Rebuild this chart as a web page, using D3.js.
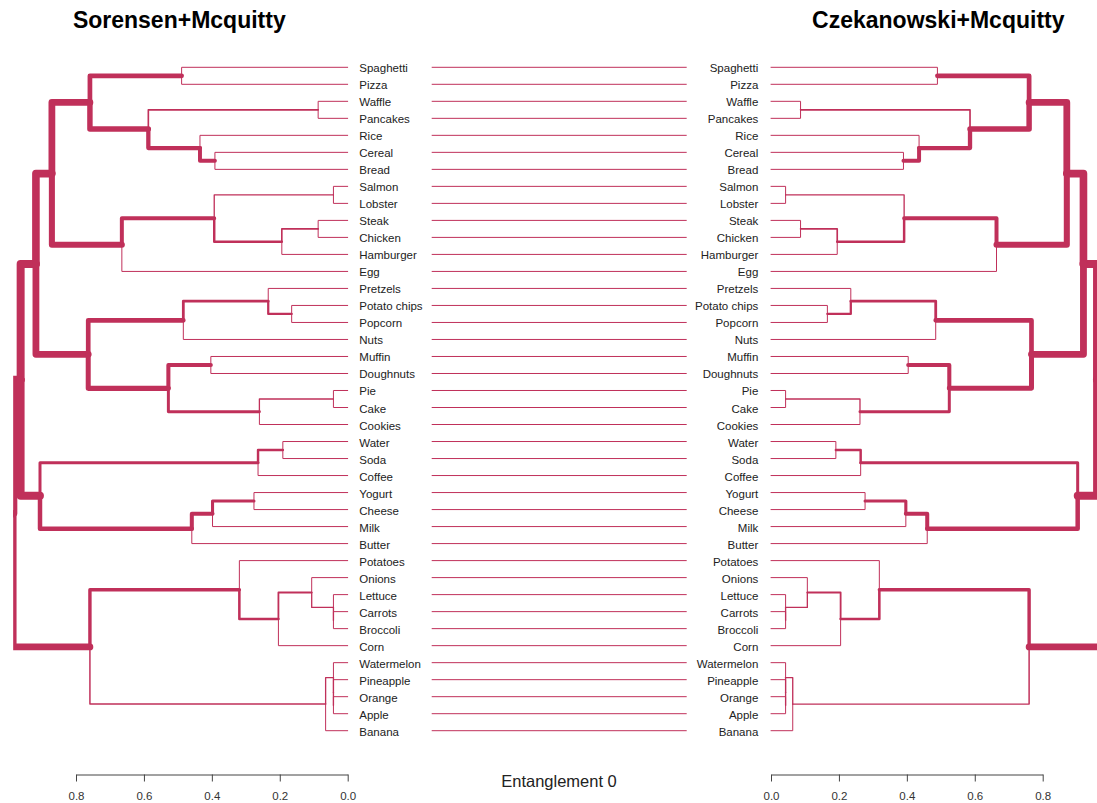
<!DOCTYPE html>
<html><head><meta charset="utf-8">
<script src="https://cdn.jsdelivr.net/npm/d3@7"></script>
<style>body{margin:0;background:#fff} svg{display:block}</style>
</head><body>
<script>
// ---- data ----
const leaves = ["Spaghetti","Pizza","Waffle","Pancakes","Rice","Cereal","Bread",
  "Salmon","Lobster","Steak","Chicken","Hamburger","Egg",
  "Pretzels","Potato chips","Popcorn","Nuts","Muffin","Doughnuts","Pie","Cake","Cookies",
  "Water","Soda","Coffee","Yogurt","Cheese","Milk","Butter",
  "Potatoes","Onions","Lettuce","Carrots","Broccoli","Corn",
  "Watermelon","Pineapple","Orange","Apple","Banana"];
// hclust-style merges: negative = leaf (1-based), positive = earlier merge (1-based)
const merges = [
  [-1,-2],[-3,-4],[-6,-7],[-5,3],[2,4],[1,5],
  [-8,-9],[-10,-11],[8,-12],[7,9],[10,-13],[6,11],
  [-15,-16],[-14,13],[14,-17],[-18,-19],[-20,-21],[17,-22],[16,18],[15,19],
  [12,20],
  [-23,-24],[22,-25],[-26,-27],[24,-28],[25,-29],[23,26],
  [21,27],
  [-33,-34],[-32,29],[-31,30],[31,-35],[-30,32],
  [-38,-39],[-37,34],[-36,35],[36,-40],[33,37],
  [28,38]
];
const heightsLeft = [
  0.489,0.087,0.391,0.435,0.587,0.759,
  0.042,0.087,0.194,0.393,0.665,0.871,
  0.165,0.234,0.484,0.403,0.042,0.260,0.528,0.764,
  0.918,
  0.191,0.264,0.276,0.398,0.459,0.906,
  0.963,
  0.042,0.042,0.106,0.204,0.319,
  0.042,0.042,0.042,0.065,0.759,
  0.985
];
const heightsRight = [
  0.490,0.087,0.390,0.436,0.586,0.760,
  0.043,0.087,0.195,0.392,0.664,0.871,
  0.166,0.235,0.485,0.404,0.043,0.262,0.525,0.767,
  0.920,
  0.191,0.264,0.277,0.397,0.460,0.903,
  0.960,
  0.043,0.043,0.107,0.205,0.319,
  0.043,0.043,0.043,0.064,0.760,
  0.985
];
const axisTicks = [0, 0.2, 0.4, 0.6, 0.8];
const titleLeft = "Sorensen+Mcquitty";
const titleRight = "Czekanowski+Mcquitty";
const entanglement = 0;

// ---- layout ----
const W = 1097, H = 803;
const color = "#C0305A";
const font = "'Liberation Sans', Arial, Helvetica, sans-serif";
const svg = d3.select("body").append("svg").attr("width", W).attr("height", H)
  .style("font-family", font);

const y = d3.scaleLinear().domain([0, leaves.length - 1]).range([67.3, 730.7]);
const xL = d3.scaleLinear().domain([0, 0.8]).range([347.7, 76]);
const xR = d3.scaleLinear().domain([0, 0.8]).range([771, 1042.7]);
const lw = d3.scaleLinear().domain([0, 1]).range([1, 8.6]);

function buildTree(heights) {
  const nodes = [];
  const get = ref => ref < 0 ? {leaf: true, pos: -ref - 1, h: 0} : nodes[ref - 1];
  merges.forEach((m, i) => {
    const a = get(m[0]), b = get(m[1]);
    nodes.push({children: [a, b], h: heights[i], pos: (a.pos + b.pos) / 2});
  });
  return nodes[nodes.length - 1];
}

const defs = svg.append("defs");
defs.append("clipPath").attr("id", "clipL").append("rect")
  .attr("x", xL(heightsLeft[heightsLeft.length - 1])).attr("y", 0).attr("width", 400).attr("height", H);
defs.append("clipPath").attr("id", "clipR").append("rect")
  .attr("x", 700).attr("y", 0).attr("width", xR(heightsRight[heightsRight.length - 1]) - 700).attr("height", H);

function drawTree(g, root, x) {
  (function rec(node) {
    node.children.forEach(c => {
      g.append("path")
        .attr("d", `M${x(node.h)},${y(node.pos)}V${y(c.pos)}H${x(c.h)}`)
        .attr("fill", "none").attr("stroke", color)
        .attr("stroke-width", lw(c.h))
        .attr("stroke-linecap", "round").attr("stroke-linejoin", "round");
      if (!c.leaf) rec(c);
    });
  })(root);
}

drawTree(svg.append("g").attr("clip-path", "url(#clipL)"), buildTree(heightsLeft), xL);
drawTree(svg.append("g").attr("clip-path", "url(#clipR)"), buildTree(heightsRight), xR);

// leaf labels
svg.append("g").selectAll("text").data(leaves).join("text")
  .attr("x", 359.3).attr("y", (d, i) => y(i) + 5)
  .attr("font-size", 11.5).attr("fill", "#222").attr("text-anchor", "start")
  .text(d => d);
svg.append("g").selectAll("text").data(leaves).join("text")
  .attr("x", 758.3).attr("y", (d, i) => y(i) + 5)
  .attr("font-size", 11.5).attr("fill", "#222").attr("text-anchor", "end")
  .text(d => d);

// connecting lines
svg.append("g").selectAll("line").data(leaves).join("line")
  .attr("x1", 431.7).attr("x2", 686.7)
  .attr("y1", (d, i) => y(i)).attr("y2", (d, i) => y(i))
  .attr("stroke", color).attr("stroke-width", 1);

// titles
svg.append("text").attr("x", 179.3).attr("y", 28.3).attr("text-anchor", "middle")
  .attr("font-size", 23).attr("font-weight", "bold").attr("fill", "#000").text(titleLeft);
svg.append("text").attr("x", 938.3).attr("y", 28.3).attr("text-anchor", "middle")
  .attr("font-size", 23).attr("font-weight", "bold").attr("fill", "#000").text(titleRight);

// entanglement
svg.append("text").attr("x", 559).attr("y", 786.7).attr("text-anchor", "middle")
  .attr("font-size", 16.5).attr("fill", "#222").text("Entanglement " + entanglement);

// axes
function drawAxis(scale) {
  const g = svg.append("g").attr("transform", "translate(0,774.5)")
    .call(d3.axisBottom(scale).tickValues(axisTicks).tickFormat(d3.format(".1f"))
      .tickSize(7).tickSizeOuter(0).tickPadding(10));
  g.selectAll("path, line").attr("stroke", "#444");
  g.selectAll("text").attr("font-size", 11.5).attr("fill", "#333").attr("font-family", font);
}
drawAxis(xL);
drawAxis(xR);
</script>
</body></html>
